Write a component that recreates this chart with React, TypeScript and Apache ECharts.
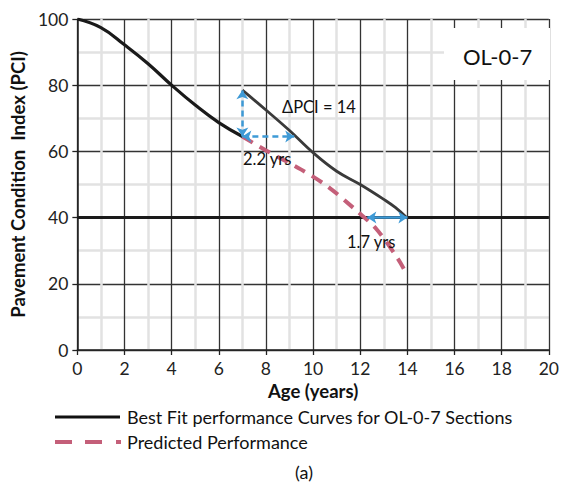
import React, { useEffect, useRef } from "react";
import * as echarts from "echarts";

// Best fit curve, first part (age, PCI)
const fitAges1 = [0, 1, 2, 3, 4, 5, 6, 7];
const fitPci1 = [100, 97.4, 92.2, 86.5, 80, 74, 68.7, 64.5];
// Best fit curve, shifted part after treatment
const fitAges2 = [7, 8, 9, 10, 11, 12, 13, 13.5, 14];
const fitPci2 = [78.5, 72.5, 66.3, 59.6, 54, 50, 45.5, 43, 39.8];
// Predicted performance
const predAges = [7, 8, 9.5, 10.6, 11.7, 12.7, 13.6, 14];
const predPci = [64.5, 60.3, 54.5, 49.5, 43, 36.4, 27.5, 22.5];
// Threshold line
const thresholdPci = 40;
const thresholdAges = [0, 20];
// Annotation arrows: [x1, y1, x2, y2]
const arrowDeltaPci = [7, 64.5, 7, 78.5];
const arrowGain1 = [7, 64.5, 9.2, 64.5];
const arrowGain2 = [12.3, 40, 14, 40];
// Texts
const labelDeltaPci = "ΔPCI = 14";
const labelGain1 = "2.2 yrs";
const labelGain2 = "1.7 yrs";
const sectionName = "OL-0-7";
const legendFit = "Best Fit performance Curves for OL-0-7 Sections";
const legendPred = "Predicted Performance";
const xTitle = "Age (years)";
const yTitle = "Pavement Condition  Index (PCI)";
const caption = "(a)";

const FONT = "Lato, 'Open Sans', sans-serif";
const BLUE = "#3e9ad6";
const PINK = "#c45f79";

export default function App() {
  const ref = useRef<HTMLDivElement>(null);
  useEffect(() => {
    if (!ref.current) return;
    const chart = echarts.init(ref.current, null, { renderer: "svg" });
    const zip = (a: number[], b: number[]) => a.map((v, i) => [v, b[i]]);
    const arrow = (a: number[], dashed: boolean) => [
      { coord: [a[0], a[1]], lineStyle: { color: BLUE, width: 2.5, type: dashed ? [6, 4] : "solid" } },
      { coord: [a[2], a[3]] },
    ];
    chart.setOption({
      animation: false,
      grid: { left: 74, right: 10, top: 19, bottom: 135, containLabel: false },
      xAxis: {
        type: "value",
        min: 0,
        max: 20,
        interval: 2,
        name: xTitle,
        nameLocation: "middle",
        nameGap: 31,
        nameTextStyle: { fontSize: 18.5, fontWeight: "bold", color: "#111", fontFamily: FONT },
        axisLine: { onZero: false, lineStyle: { color: "#222", width: 1.5 } },
        axisTick: { show: true, length: 5, lineStyle: { color: "#222", width: 1.3 } },
        axisLabel: { fontSize: 17.5, color: "#222", fontFamily: FONT, margin: 9 },
        splitLine: { show: true, lineStyle: { color: "#333", width: 1.3 } },
        minorTick: { show: false, splitNumber: 2 },
        minorSplitLine: { show: true, lineStyle: { color: "#e2e2e2", width: 2.5 } },
      },
      yAxis: {
        type: "value",
        min: 0,
        max: 100,
        interval: 20,
        name: yTitle,
        nameLocation: "middle",
        nameGap: 47,
        nameTextStyle: { fontSize: 18.5, fontWeight: "bold", color: "#111", fontFamily: FONT },
        axisLine: { show: true, lineStyle: { color: "#222", width: 1.5 } },
        axisTick: { show: true, length: 5, lineStyle: { color: "#222", width: 1.3 } },
        axisLabel: { fontSize: 17.5, color: "#222", fontFamily: FONT, margin: 9 },
        splitLine: { show: true, lineStyle: { color: "#333", width: 1.3 } },
        minorTick: { show: false, splitNumber: 2 },
        minorSplitLine: { show: true, lineStyle: { color: "#e2e2e2", width: 2.5 } },
      },
      series: [
        {
          type: "line",
          data: thresholdAges.map((a) => [a, thresholdPci]),
          symbol: "none",
          lineStyle: { color: "#1a1a1a", width: 3 },
          z: 3,
        },
        {
          name: legendFit,
          type: "line",
          data: zip(fitAges1, fitPci1),
          smooth: 0.45,
          symbol: "none",
          lineStyle: { color: "#1a1a1a", width: 3.2 },
          z: 4,
        },
        {
          type: "line",
          data: zip(fitAges2, fitPci2),
          smooth: 0.4,
          symbol: "none",
          lineStyle: { color: "#3a3a3a", width: 2.8 },
          z: 4,
        },
        {
          name: legendPred,
          type: "line",
          data: zip(predAges, predPci),
          smooth: 0.3,
          symbol: "none",
          lineStyle: { color: PINK, width: 4, type: [12, 8] },
          z: 3,
          markLine: {
            silent: true,
            symbol: ["arrow", "arrow"],
            symbolSize: [9, 9],
            label: { show: false },
            z: 5,
            data: [arrow(arrowDeltaPci, true), arrow(arrowGain1, true), arrow(arrowGain2, false)],
          },
        },
      ],
      graphic: [
        { type: "rect", left: 444, top: 28, shape: { width: 106, height: 52 }, style: { fill: "#fff" }, z: 1 },
        {
          type: "text",
          left: 463,
          top: 45,
          style: { text: sectionName, font: `22px ${FONT}`, fill: "#111" },
          z: 10,
        },
        { type: "text", left: 282, top: 98, style: { text: labelDeltaPci, font: `16.5px ${FONT}`, fill: "#111" }, z: 10 },
        { type: "text", left: 243, top: 150, style: { text: labelGain1, font: `16.5px ${FONT}`, fill: "#111" }, z: 10 },
        { type: "text", left: 347, top: 233, style: { text: labelGain2, font: `16.5px ${FONT}`, fill: "#111" }, z: 10 },
        {
          type: "line",
          shape: { x1: 55, y1: 417, x2: 120, y2: 417 },
          style: { stroke: "#111", lineWidth: 3 },
          z: 10,
        },
        {
          type: "line",
          shape: { x1: 55, y1: 442, x2: 102, y2: 442 },
          style: { stroke: PINK, lineWidth: 4, lineDash: [17, 13] },
          z: 10,
        },
        {
          type: "line",
          shape: { x1: 116, y1: 442, x2: 121, y2: 442 },
          style: { stroke: PINK, lineWidth: 4 },
          z: 10,
        },
        {
          type: "text",
          x: 127,
          y: 417,
          style: { text: legendFit, font: `18px ${FONT}`, fill: "#111", verticalAlign: "middle" },
          z: 10,
        },
        {
          type: "text",
          x: 127,
          y: 442,
          style: { text: legendPred, font: `18px ${FONT}`, fill: "#111", verticalAlign: "middle" },
          z: 10,
        },
        {
          type: "text",
          x: 304,
          y: 472,
          style: { text: caption, font: `18px ${FONT}`, fill: "#111", align: "center", verticalAlign: "middle" },
          z: 10,
        },
      ],
    });
    return () => chart.dispose();
  }, []);
  return (
    <div
      ref={ref}
      style={{ position: "fixed", left: 0, top: 0, width: 562, height: 485, background: "#fff" }}
    />
  );
}
